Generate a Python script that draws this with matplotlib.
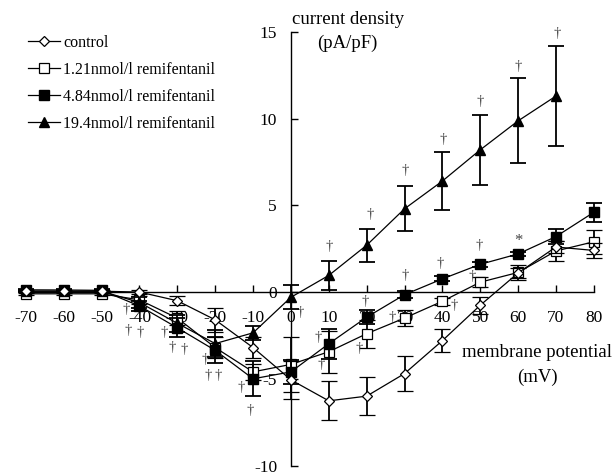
import matplotlib
matplotlib.use("Agg")
import matplotlib.pyplot as plt

plt.rcParams['font.family'] = ['Liberation Serif', 'DejaVu Serif']
plt.rcParams['axes.unicode_minus'] = False

# membrane potential (mV)
voltage = [-70, -60, -50, -40, -30, -20, -10, 0, 10, 20, 30, 40, 50, 60, 70, 80]
voltage_tri = [-70, -60, -50, -40, -30, -20, -10, 0, 10, 20, 30, 40, 50, 60, 70]

control = [0.05, 0.05, 0.05, 0.0, -0.5, -1.6, -3.2, -5.06, -6.27, -6.0, -4.7, -2.8, -0.76, 1.1, 2.6, 2.4]
control_err = [0.05, 0.05, 0.05, 0.1, 0.25, 0.7, 0.6, 1.1, 1.13, 1.1, 1.0, 0.65, 0.5, 0.3, 0.35, 0.45]

remi_121 = [-0.1, -0.1, -0.1, -0.45, -1.5, -3.2, -4.6, -4.17, -3.44, -2.4, -1.5, -0.53, 0.57, 1.13, 2.37, 2.9]
remi_121_err = [0.05, 0.05, 0.05, 0.25, 0.4, 0.6, 0.45, 1.6, 1.2, 0.8, 0.45, 0.2, 0.3, 0.45, 0.6, 0.7]

remi_484 = [0.13, 0.12, 0.1, -0.8, -2.06, -3.36, -5.0, -4.6, -2.98, -1.45, -0.15, 0.76, 1.6, 2.2, 3.2, 4.6]
remi_484_err = [0.05, 0.05, 0.05, 0.3, 0.55, 0.75, 1.0, 0.7, 0.85, 0.4, 0.2, 0.15, 0.15, 0.1, 0.45, 0.55]

remi_194 = [0.05, 0.05, 0.05, -0.6, -1.8, -2.97, -2.35, -0.3, 0.96, 2.7, 4.8, 6.4, 8.2, 9.87, 11.3]
remi_194_err = [0.05, 0.05, 0.05, 0.3, 0.5, 0.8, 0.4, 0.7, 0.84, 0.95, 1.3, 1.67, 2.0, 2.45, 2.9]

labels = ['control', '1.21nmol/l remifentanil', '4.84nmol/l remifentanil', '19.4nmol/l remifentanil']

# significance marks (position)
dagger_x = [10, 21, 30.2, 40.1, 50, 60, 70.3,
            39.4, 49.6, 30.2, 19.5,
            47.8, 43.2, 26.7, 18, 7.9, 7.3, 2.5,
            -43.6, -43, -39.8, -33.6, -31.4, -28.3, -22.6, -21.9, -19.3, -13.1, -10.7]
dagger_y = [2.6, 4.5, 7.0, 8.8, 11.0, 13.0, 14.9,
            1.66, 2.68, 0.96, -0.53,
            0.9, -0.76, -1.49, -3.25, -4.2, -2.6, -1.2,
            -1.0, -2.2, -2.35, -2.35, -3.2, -3.3, -3.9, -4.8, -4.8, -5.5, -6.85]
star_x = [60]
star_y = [2.94]

fig = plt.figure(figsize=(6.16, 4.76), dpi=100)
ax = fig.add_axes([0.042, 0.022, 0.922, 0.911])

common = dict(color='black', lw=0.9, elinewidth=1.3, capsize=6, capthick=1.3, clip_on=False)

c_open = ax.errorbar(voltage, remi_121, yerr=remi_121_err, marker='s', ms=7,
                     mfc='white', mec='black', mew=0.9, zorder=3, **common)
c_tri = ax.errorbar(voltage_tri, remi_194, yerr=remi_194_err, marker='^', ms=7.5,
                    mfc='black', mec='black', zorder=4, **common)
c_fill = ax.errorbar(voltage, remi_484, yerr=remi_484_err, marker='s', ms=7,
                     mfc='black', mec='black', zorder=5, **common)
c_ctrl = ax.errorbar(voltage, control, yerr=control_err, marker='D', ms=5.5,
                     mfc='white', mec='black', mew=0.9, zorder=6, **common)

for xx, yy in zip(dagger_x, dagger_y):
    ax.text(xx, yy, '\u2020', fontsize=10.5, color='#444444', ha='center', va='center', clip_on=False)
for xx, yy in zip(star_x, star_y):
    ax.text(xx, yy, '*', fontsize=12, color='#444444', ha='center', va='center', clip_on=False)

ax.set_xlim(-70, 80)
ax.set_ylim(-10, 15)
ax.spines['left'].set_position(('data', 0))
ax.spines['bottom'].set_position(('data', 0))
ax.spines['top'].set_visible(False)
ax.spines['right'].set_visible(False)
for s in ('left', 'bottom'):
    ax.spines[s].set_linewidth(1.0)

ax.set_xticks(voltage)
ax.set_xticklabels([str(v) for v in voltage])
ax.set_yticks([-10, -5, 0, 5, 10, 15])
ax.set_yticklabels(['-10', '-5', '0', '5', '10', '15'])
ax.tick_params(axis='x', direction='in', length=5, width=1, pad=13, labelsize=12.5)
ax.tick_params(axis='y', direction='in', length=5, width=1, pad=10, labelsize=12.5)
ax.patch.set_visible(False)

ax.text(15.0, 15.7, 'current density', fontsize=13.5, ha='center', va='center', clip_on=False)
ax.text(14.8, 14.33, '(pA/pF)', fontsize=13.5, ha='center', va='center', clip_on=False)
ax.text(65, -3.5, 'membrane potential', fontsize=13.5, ha='center', va='center', clip_on=False)
ax.text(65, -4.93, '(mV)', fontsize=13.5, ha='center', va='center', clip_on=False)

handles = [c_ctrl[0], c_open[0], c_fill[0], c_tri[0]]
fig.legend(handles, labels, loc='upper left', bbox_to_anchor=(28 / 616, 1 - 35 / 476),
           frameon=False, fontsize=11.5, handlelength=2.0, handletextpad=0.2,
           labelspacing=0.68, borderpad=0, borderaxespad=0)

fig.savefig('out.png', dpi=100)
